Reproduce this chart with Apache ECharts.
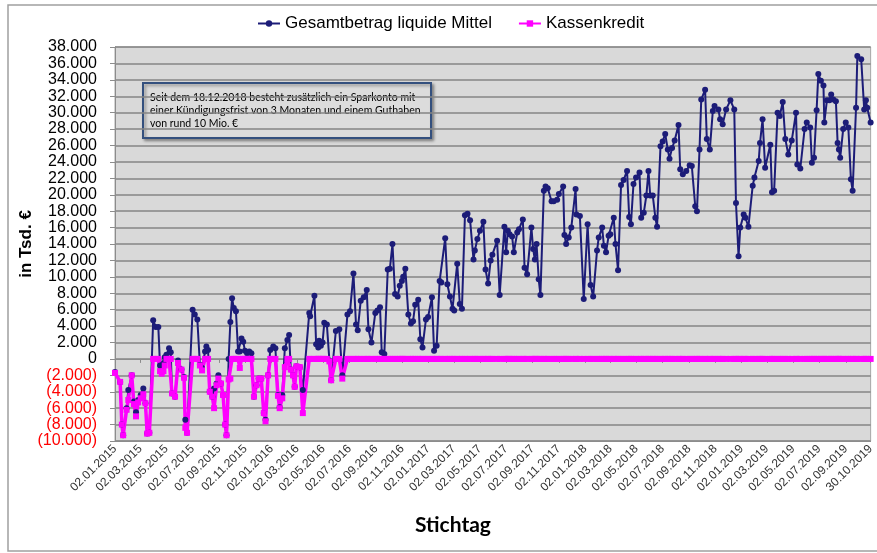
<!DOCTYPE html>
<html>
<head>
<meta charset="utf-8">
<script src="https://cdn.jsdelivr.net/npm/echarts@6/dist/echarts.min.js"></script>
<style>
html, body { margin: 0; padding: 0; background: #fff; }
#chart { width: 877px; height: 553px; }
</style>
</head>
<body>
<div id="chart"></div>
<script>
// Achsenbeschriftung (Stichtage alle 2 Monate)
var tickLabels = ['02.01.2015', '02.03.2015', '02.05.2015', '02.07.2015', '02.09.2015', '02.11.2015',
    '02.01.2016', '02.03.2016', '02.05.2016', '02.07.2016', '02.09.2016', '02.11.2016',
    '02.01.2017', '02.03.2017', '02.05.2017', '02.07.2017', '02.09.2017', '02.11.2017',
    '02.01.2018', '02.03.2018', '02.05.2018', '02.07.2018', '02.09.2018', '02.11.2018',
    '02.01.2019', '02.03.2019', '02.05.2019', '02.07.2019', '02.09.2019', '30.10.2019'];

// Stichtage als Tage seit dem 02.01.2015
var tage = [
    0, 12, 16, 19, 27, 31, 39, 44, 49, 54,
    60, 66, 71, 75, 80, 89, 95, 101, 105, 109,
    113, 116, 120, 126, 130, 133, 140, 147, 155, 161,
    164, 168, 181, 186, 192, 198, 203, 210, 213, 217,
    221, 227, 231, 237, 241, 247, 252, 257, 260, 265,
    269, 273, 277, 282, 287, 291, 295, 299, 303, 308,
    313, 318, 324, 330, 335, 341, 347, 351, 357, 362,
    369, 374, 380, 384, 390, 396, 402, 406, 410, 415,
    419, 423, 431, 438, 453, 455, 465, 469, 474, 476,
    480, 484, 488, 494, 500, 504, 515, 523, 530, 542,
    548, 556, 562, 566, 573, 580, 587, 591, 598, 607,
    612, 618, 622, 628, 636, 641, 647, 653, 659, 664,
    669, 672, 677, 684, 690, 695, 700, 707, 712, 717,
    725, 730, 739, 744, 750, 757, 761, 770, 775, 781,
    787, 791, 798, 804, 809, 816, 822, 828, 836, 839,
    845, 851, 859, 864, 870, 876, 880, 891, 897, 908,
    912, 916, 920, 926, 930, 938, 942, 951, 955, 961,
    971, 975, 979, 983, 988, 992, 1000, 1004, 1009, 1018,
    1023, 1031, 1035, 1045, 1048, 1052, 1058, 1064, 1074, 1076,
    1084, 1093, 1102, 1109, 1115, 1124, 1128, 1136, 1140, 1145,
    1151, 1155, 1163, 1167, 1173, 1180, 1186, 1194, 1199, 1203,
    1209, 1215, 1223, 1227, 1233, 1239, 1244, 1248, 1254, 1260,
    1264, 1272, 1277, 1283, 1289, 1293, 1299, 1305, 1314, 1318,
    1324, 1332, 1340, 1345, 1353, 1357, 1363, 1367, 1376, 1380,
    1387, 1394, 1398, 1407, 1411, 1417, 1425, 1435, 1444, 1448,
    1454, 1458, 1466, 1470, 1477, 1487, 1491, 1501, 1504, 1510,
    1516, 1528, 1532, 1537, 1545, 1550, 1557, 1563, 1570, 1578,
    1588, 1591, 1598, 1608, 1613, 1621, 1625, 1630, 1636, 1640,
    1646, 1652, 1654, 1660, 1666, 1670, 1675, 1681, 1685, 1688,
    1691, 1698, 1704, 1710, 1716, 1720, 1728, 1731, 1740, 1747,
    1751, 1754, 1762
];

// Gesamtbetrag liquide Mittel (Tsd. €)
var liquide = [
    -1600, -2800, -8000, -9300, -6000, -3800, -2000, -5200, -6500, -5000,
    -4400, -3600, -5400, -9100, -9000, 4700, 3900, 3900, -800, -1500,
    -500, 200, 500, 1300, 800, -4200, -4600, -200, -1300, -2200,
    -7400, -9000, 6000, 5400, 4800, -700, -1100, 900, 1500, 1100,
    -4000, -4600, -3600, -3000, -2000, -3000, -4400, -8000, -9300, 0,
    4500, 7400, 6200, 5800, 900, 900, 2500, 2100, 1000, 700,
    900, 700, -4600, -3200, -2400, -2400, -6600, -7400, -2000, 1100,
    1500, 1300, -4400, -5900, -4400, 1300, 2300, 2900, -1300, -2000,
    -3400, -900, -1000, -3800, 5600, 5200, 7700, 1800, 1400, 2200,
    1600, 2000, 4400, 4200, -200, -2600, 3400, 3600, -2000, 5400,
    5800, 10400, 4200, 3500, 7100, 7500, 8400, 3600, 2000, 5600,
    5900, 6300, 800, 600, 10900, 11000, 14000, 7900, 7600, 8900,
    9500, 10000, 11000, 5400, 4300, 4600, 6600, 7200, 2400, 1400,
    4800, 5100, 7500, 1000, 1600, 9500, 9300, 14700, 9100, 7600,
    6100, 5900, 11600, 6700, 6100, 17500, 17700, 16900, 12100, 13200,
    14600, 15600, 16700, 10900, 9200, 12000, 12700, 14400, 7800, 16100,
    13000, 15600, 15200, 14900, 13000, 15400, 15800, 17000, 11100, 10300,
    16000, 13400, 12100, 14000, 9700, 7800, 20500, 21000, 20800, 19200,
    19200, 19400, 20100, 21000, 15100, 14000, 14800, 16000, 20700, 17600,
    17400, 7300, 16400, 9000, 7600, 13200, 14800, 16000, 13800, 13000,
    15000, 15200, 17200, 14000, 10800, 21200, 21800, 22900, 17300, 16400,
    21300, 22100, 22700, 17200, 17800, 19900, 22900, 19900, 19900, 17200,
    16100, 25900, 26500, 27400, 25500, 24400, 25700, 26600, 28500, 23100,
    22500, 22900, 23600, 23500, 18600, 18000, 25500, 31600, 32800, 26800,
    25500, 30200, 30800, 30400, 29200, 28600, 30400, 31500, 30400, 19000,
    12500, 16000, 17600, 17200, 16100, 21100, 22100, 24100, 26300, 29200,
    23300, 26100, 20300, 20500, 30000, 29600, 31300, 26800, 24900, 26600,
    30000, 23700, 23200, 28000, 28800, 28200, 23900, 24500, 30300, 34700,
    33900, 33300, 28800, 31500, 31500, 32200, 31600, 31400, 26300, 25500,
    24500, 28000, 28800, 28200, 21900, 20500, 30600, 36900, 36500, 30400,
    31500, 30600, 28800
];

// Kassenkredit (Tsd. €)
var kredit = [
    -1700, -2800, -8000, -9300, -6200, -5000, -2000, -5500, -7000, -5300,
    -4800, -4300, -5400, -9100, -9000, 0, 0, 0, -1500, -1800,
    -1500, -800, 0, 0, 0, -4200, -4600, -500, -1300, -2300,
    -8400, -9000, 0, 0, 0, -800, -1400, 0, 0, 0,
    -4000, -4600, -6000, -3200, -2400, -3000, -4400, -8000, -9300, -2500,
    -2400, 0, 0, 0, 0, -1100, 0, 0, 0, 0,
    0, 0, -4600, -3200, -2400, -2400, -6600, -7600, -2000, 0,
    0, 0, -4500, -6000, -4800, -1000, 0, 0, -1300, -2000,
    -3400, -900, -1000, -6600, 0, 0, 0, 0, 0, 0,
    0, 0, 0, 0, -300, -2600, 0, 0, -2400, 0,
    0, 0, 0, 0, 0, 0, 0, 0, 0, 0,
    0, 0, 0, 0, 0, 0, 0, 0, 0, 0,
    0, 0, 0, 0, 0, 0, 0, 0, 0, 0,
    0, 0, 0, 0, 0, 0, 0, 0, 0, 0,
    0, 0, 0, 0, 0, 0, 0, 0, 0, 0,
    0, 0, 0, 0, 0, 0, 0, 0, 0, 0,
    0, 0, 0, 0, 0, 0, 0, 0, 0, 0,
    0, 0, 0, 0, 0, 0, 0, 0, 0, 0,
    0, 0, 0, 0, 0, 0, 0, 0, 0, 0,
    0, 0, 0, 0, 0, 0, 0, 0, 0, 0,
    0, 0, 0, 0, 0, 0, 0, 0, 0, 0,
    0, 0, 0, 0, 0, 0, 0, 0, 0, 0,
    0, 0, 0, 0, 0, 0, 0, 0, 0, 0,
    0, 0, 0, 0, 0, 0, 0, 0, 0, 0,
    0, 0, 0, 0, 0, 0, 0, 0, 0, 0,
    0, 0, 0, 0, 0, 0, 0, 0, 0, 0,
    0, 0, 0, 0, 0, 0, 0, 0, 0, 0,
    0, 0, 0, 0, 0, 0, 0, 0, 0, 0,
    0, 0, 0, 0, 0, 0, 0, 0, 0, 0,
    0, 0, 0, 0, 0, 0, 0, 0, 0, 0,
    0, 0, 0
];

var hinweis = ['Seit dem 18.12.2018 besteht zusätzlich ein Sparkonto mit',
    'einer Kündigungsfrist von 3 Monaten und einem Guthaben',
    'von rund 10 Mio. €'];

function tagVon(s) {
    var p = s.split('.');
    return Math.round((Date.UTC(+p[2], +p[1] - 1, +p[0]) - Date.UTC(2015, 0, 2)) / 86400000);
}
var tickTage = tickLabels.map(tagVon);

function tsd(v) {
    return String(Math.abs(v)).replace(/\B(?=(\d{3})+(?!\d))/g, '.');
}

var chart = echarts.init(document.getElementById('chart'));

var option = {
    animation: false,
    backgroundColor: '#fff',
    textStyle: { fontFamily: 'Liberation Sans' },
    legend: {
        left: 252,
        top: 10,
        itemWidth: 22,
        itemHeight: 8,
        itemGap: 26,
        textStyle: { fontSize: 17, color: '#000', fontFamily: 'Liberation Sans' },
        data: ['Gesamtbetrag liquide Mittel', 'Kassenkredit']
    },
    grid: {
        left: 115,
        right: 5,
        top: 47,
        bottom: 112,
        show: true,
        backgroundColor: '#d9d9d9',
        borderColor: '#a6a6a6',
        borderWidth: 1
    },
    xAxis: [{
        type: 'value',
        min: 0,
        max: tickTage[tickTage.length - 1],
        axisLine: { onZero: false, lineStyle: { color: '#8c8c8c' } },
        axisTick: { show: false },
        splitLine: { show: false },
        axisLabel: {
            customValues: tickTage,
            rotate: 45,
            margin: 6,
            fontSize: 12,
            color: '#333',
            formatter: function (v) {
                var i = tickTage.indexOf(v);
                return i >= 0 ? tickLabels[i] : '';
            }
        }
    }, {
        type: 'value',
        min: 0,
        max: tickTage[tickTage.length - 1],
        position: 'bottom',
        axisLine: { onZero: true, lineStyle: { color: '#8c8c8c' } },
        axisTick: { show: true, length: 4, customValues: tickTage, lineStyle: { color: '#8c8c8c' } },
        axisLabel: { show: false },
        splitLine: { show: false }
    }],
    yAxis: {
        type: 'value',
        min: -10000,
        max: 38000,
        interval: 2000,
        name: 'in Tsd. €',
        nameLocation: 'middle',
        nameRotate: 90,
        nameGap: 80,
        nameMoveOverlap: false,
        nameTextStyle: { fontSize: 17, fontWeight: 'bold', color: '#000' },
        axisLine: { show: true, lineStyle: { color: '#8c8c8c' } },
        axisTick: { show: true, length: 5, lineStyle: { color: '#8c8c8c' } },
        splitLine: { lineStyle: { color: '#858585', width: 1.5 } },
        axisLabel: {
            margin: 18,
            fontSize: 16,
            color: '#000',
            formatter: function (v) {
                if (v < 0) return '{neg|(' + tsd(v) + ')}';
                return v === 0 ? '0' : tsd(v);
            },
            rich: { neg: { color: '#ff0000', fontSize: 16 } }
        }
    },
    graphic: [{
        type: 'rect',
        shape: { x: 8, y: 5, width: 880, height: 546 },
        style: { fill: 'none', stroke: '#a0a0a0', lineWidth: 1.5 },
        silent: true
    }, {
        type: 'group',
        left: 142,
        top: 82,
        children: [{
            type: 'rect',
            shape: { x: 0, y: 0, width: 288, height: 55 },
            style: {
                fill: '#dcdcdc', stroke: '#34507e', lineWidth: 2,
                shadowBlur: 3, shadowOffsetX: 2, shadowOffsetY: 2, shadowColor: 'rgba(0,0,0,0.35)'
            }
        }, {
            type: 'text',
            x: 7,
            y: 8,
            style: {
                text: hinweis.join('\n'),
                font: '10.5px Lato',
                lineHeight: 13,
                fill: '#000'
            }
        }]
    }, {
        type: 'text',
        left: 415,
        top: 515,
        style: { text: 'Stichtag', font: 'bold 21px Lato', fill: '#000' }
    }],
    series: [{
        name: 'Gesamtbetrag liquide Mittel',
        type: 'line',
        xAxisIndex: 0,
        data: tage.map(function (t, i) { return [t, liquide[i]]; }),
        symbol: 'circle',
        symbolSize: 6,
        lineStyle: { color: '#1c1c78', width: 2 },
        itemStyle: { color: '#1c1c78' }
    }, {
        name: 'Kassenkredit',
        type: 'line',
        xAxisIndex: 0,
        data: tage.map(function (t, i) { return [t, kredit[i]]; }),
        symbol: 'rect',
        symbolSize: 6,
        lineStyle: { color: '#ff00ff', width: 3.5 },
        itemStyle: { color: '#ff00ff' }
    }]
};

chart.setOption(option);
</script>
</body>
</html>
